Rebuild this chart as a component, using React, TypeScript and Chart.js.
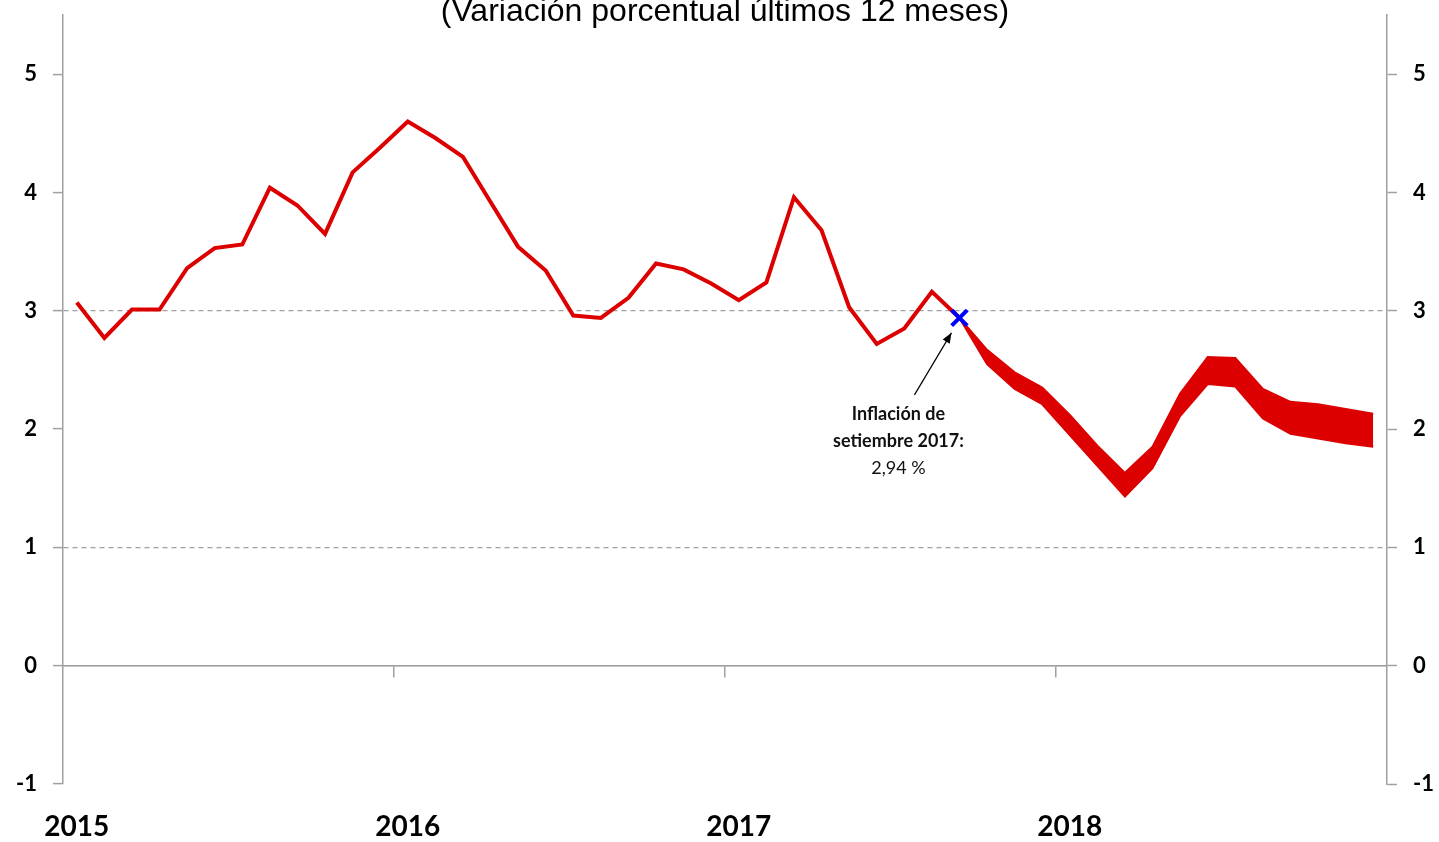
import React, { useEffect, useRef } from 'react';
import { Chart, registerables } from 'chart.js';

Chart.register(...registerables);

const years = ['2015', '2016', '2017', '2018'];
const monthNames = ['ene', 'feb', 'mar', 'abr', 'may', 'jun', 'jul', 'ago', 'set', 'oct', 'nov', 'dic'];
const categories: string[] = [];
years.forEach((y) => monthNames.forEach((m) => categories.push(m + '-' + y)));

// Observed inflation, Jan 2015 - Sep 2017
const inflation = [
  3.07, 2.77, 3.01, 3.01, 3.36, 3.53, 3.56, 4.04, 3.89, 3.65, 4.17, 4.38,
  4.6, 4.46, 4.3, 3.92, 3.54, 3.34, 2.96, 2.94, 3.11, 3.4, 3.35, 3.23,
  3.09, 3.24, 3.96, 3.68, 3.03, 2.72, 2.85, 3.16, 2.94,
];
// Forecast band, Sep 2017 - Dec 2018
const bandUpper = [2.94, 2.67, 2.48, 2.35, 2.12, 1.86, 1.63, 1.85, 2.3, 2.61, 2.6, 2.34, 2.23, 2.21, 2.17, 2.13];
const bandLower = [2.94, 2.55, 2.34, 2.21, 1.95, 1.69, 1.43, 1.67, 2.11, 2.38, 2.36, 2.09, 1.96, 1.92, 1.88, 1.85];
const markerIndex = 32;
const markerValue = 2.94;
const yTicks = [-1, 0, 1, 2, 3, 4, 5];
const refLines = [1, 3];

const titleText = '(Variación porcentual últimos 12 meses)';
const noteLines = ['Inflación de', 'setiembre 2017:', '2,94 %'];

const RED = '#dc0000';
const GRAY = '#a0a0a0';

const pad = (arr: number[], start: number) => {
  const out: (number | null)[] = categories.map(() => null);
  arr.forEach((v, i) => (out[start + i] = v));
  return out;
};

export default function App() {
  const ref = useRef<HTMLCanvasElement | null>(null);

  useEffect(() => {
    if (!ref.current) return;
    const bandStart = categories.length - bandUpper.length;

    const overlay = {
      id: 'overlay',
      afterDraw(chart: any) {
        const ctx = chart.ctx;
        const px = chart.scales.x.getPixelForValue(markerIndex);
        const py = chart.scales.y.getPixelForValue(markerValue);
        ctx.save();
        // title
        ctx.fillStyle = '#000';
        ctx.font = '32px "Liberation Sans", Arial, sans-serif';
        ctx.textAlign = 'center';
        ctx.textBaseline = 'alphabetic';
        ctx.fillText(titleText, (chart.chartArea.left + chart.chartArea.right) / 2, 21);
        // arrow
        const tx = px - 8, ty = py + 15;
        const sx = px - 45, sy = py + 77;
        ctx.strokeStyle = '#000';
        ctx.lineWidth = 1.2;
        ctx.beginPath();
        ctx.moveTo(sx, sy);
        ctx.lineTo(tx, ty);
        ctx.stroke();
        const ang = Math.atan2(ty - sy, tx - sx);
        ctx.fillStyle = '#000';
        ctx.beginPath();
        ctx.moveTo(tx, ty);
        ctx.lineTo(tx - 11 * Math.cos(ang - 0.38), ty - 11 * Math.sin(ang - 0.38));
        ctx.lineTo(tx - 11 * Math.cos(ang + 0.38), ty - 11 * Math.sin(ang + 0.38));
        ctx.closePath();
        ctx.fill();
        // note text
        ctx.textAlign = 'center';
        ctx.textBaseline = 'middle';
        ctx.fillStyle = '#111';
        ctx.font = 'bold 18px Lato, "Open Sans", sans-serif';
        ctx.fillText(noteLines[0], px - 61, py + 96);
        ctx.fillText(noteLines[1], px - 61, py + 123);
        ctx.font = '18px Lato, "Open Sans", sans-serif';
        ctx.fillText(noteLines[2], px - 61, py + 150);
        ctx.restore();
      },
    };

    const yGridColor = (c: any) => {
      const v = c.tick ? c.tick.value : NaN;
      return v === 0 || refLines.includes(v) ? GRAY : 'rgba(0,0,0,0)';
    };

    const noPadV = (w: number) => (s: any) => {
      s.width = w;
      s.paddingTop = 0;
      s.paddingBottom = 0;
    };

    const chart = new Chart(ref.current, {
      type: 'line',
      data: {
        labels: categories,
        datasets: [
          {
            label: 'marker',
            data: categories.map((_, i) => (i === markerIndex ? markerValue : null)),
            showLine: false,
            borderColor: '#0000ff',
            backgroundColor: '#0000ff',
            borderWidth: 4,
            pointStyle: 'crossRot',
            pointRadius: 11,
            pointBorderWidth: 4,
            pointBorderColor: '#0000ff',
            pointBackgroundColor: '#0000ff',
          },
          {
            label: 'inflacion',
            data: pad(inflation, 0),
            borderColor: RED,
            borderWidth: 4,
            pointRadius: 0,
            fill: false,
            tension: 0,
            borderJoinStyle: 'miter',
          },
          {
            label: 'upper',
            data: pad(bandUpper, bandStart),
            borderColor: RED,
            backgroundColor: RED,
            borderWidth: 2,
            pointRadius: 0,
            fill: '+1',
            tension: 0,
          },
          {
            label: 'lower',
            data: pad(bandLower, bandStart),
            borderColor: RED,
            backgroundColor: RED,
            borderWidth: 2,
            pointRadius: 0,
            fill: false,
            tension: 0,
          },
        ],
      },
      options: {
        responsive: false,
        animation: false,
        events: [],
        layout: { padding: { top: 13, left: 0, right: 0, bottom: 0 } },
        plugins: { legend: { display: false }, tooltip: { enabled: false }, title: { display: false } },
        scales: {
          x: {
            type: 'category',
            position: 'bottom',
            offset: true,
            border: { display: false },
            grid: { display: false, drawTicks: false },
            ticks: {
              autoSkip: false,
              maxRotation: 0,
              minRotation: 0,
              padding: 26,
              color: '#000',
              font: { family: 'Lato, "Open Sans", sans-serif', size: 28, weight: 'bold' },
              callback: (_v: any, i: number) => (i % 12 === 0 ? years[i / 12] : ''),
            },
            afterFit: (s: any) => {
              s.height = 58;
              s.paddingLeft = 0;
              s.paddingRight = 0;
            },
          },
          x2: {
            type: 'category',
            position: { y: 0 },
            offset: true,
            border: { display: true, color: GRAY, width: 1.5 },
            grid: {
              drawOnChartArea: false,
              drawTicks: true,
              offset: true,
              tickLength: 11,
              lineWidth: 1.5,
              color: (c: any) => (c.index > 0 && c.index % 12 === 0 ? GRAY : 'rgba(0,0,0,0)'),
              tickColor: (c: any) => (c.index > 0 && c.index % 12 === 0 ? GRAY : 'rgba(0,0,0,0)'),
            },
            ticks: { display: false },
            afterFit: (s: any) => {
              s.paddingLeft = 0;
              s.paddingRight = 0;
            },
          },
          y: {
            type: 'linear',
            position: 'left',
            min: -1,
            max: 5.5,
            afterBuildTicks: (s: any) => {
              s.ticks = yTicks.map((v) => ({ value: v }));
            },
            afterFit: noPadV(63),
            border: { display: true, color: GRAY, width: 1.5, dash: (c: any) => (c.tick && refLines.includes(c.tick.value) ? [5, 4] : []) },
            grid: {
              drawOnChartArea: true,
              drawTicks: true,
              tickLength: 10,
              lineWidth: 1.2,
              color: yGridColor,
              tickColor: GRAY,
              tickWidth: 1.5,
            },
            ticks: {
              padding: 16,
              color: '#000',
              font: { family: 'Lato, "Open Sans", sans-serif', size: 22, weight: 'bold' },
              callback: (v: any) => String(v),
            },
          },
          y2: {
            type: 'linear',
            position: 'right',
            min: -1,
            max: 5.5,
            afterBuildTicks: (s: any) => {
              s.ticks = yTicks.map((v) => ({ value: v }));
            },
            afterFit: noPadV(52),
            border: { display: true, color: GRAY, width: 1.5 },
            grid: { drawOnChartArea: false, drawTicks: true, tickLength: 10, color: GRAY, tickWidth: 1.5 },
            ticks: {
              padding: 16,
              color: '#000',
              font: { family: 'Lato, "Open Sans", sans-serif', size: 22, weight: 'bold' },
              callback: (v: any) => String(v),
            },
          },
        },
      },
      plugins: [overlay],
    } as any);

    return () => chart.destroy();
  }, []);

  return (
    <div style={{ position: 'absolute', left: 0, top: 0, width: 1439, height: 842, background: '#fff' }}>
      <canvas ref={ref} width={1439} height={842} />
    </div>
  );
}
